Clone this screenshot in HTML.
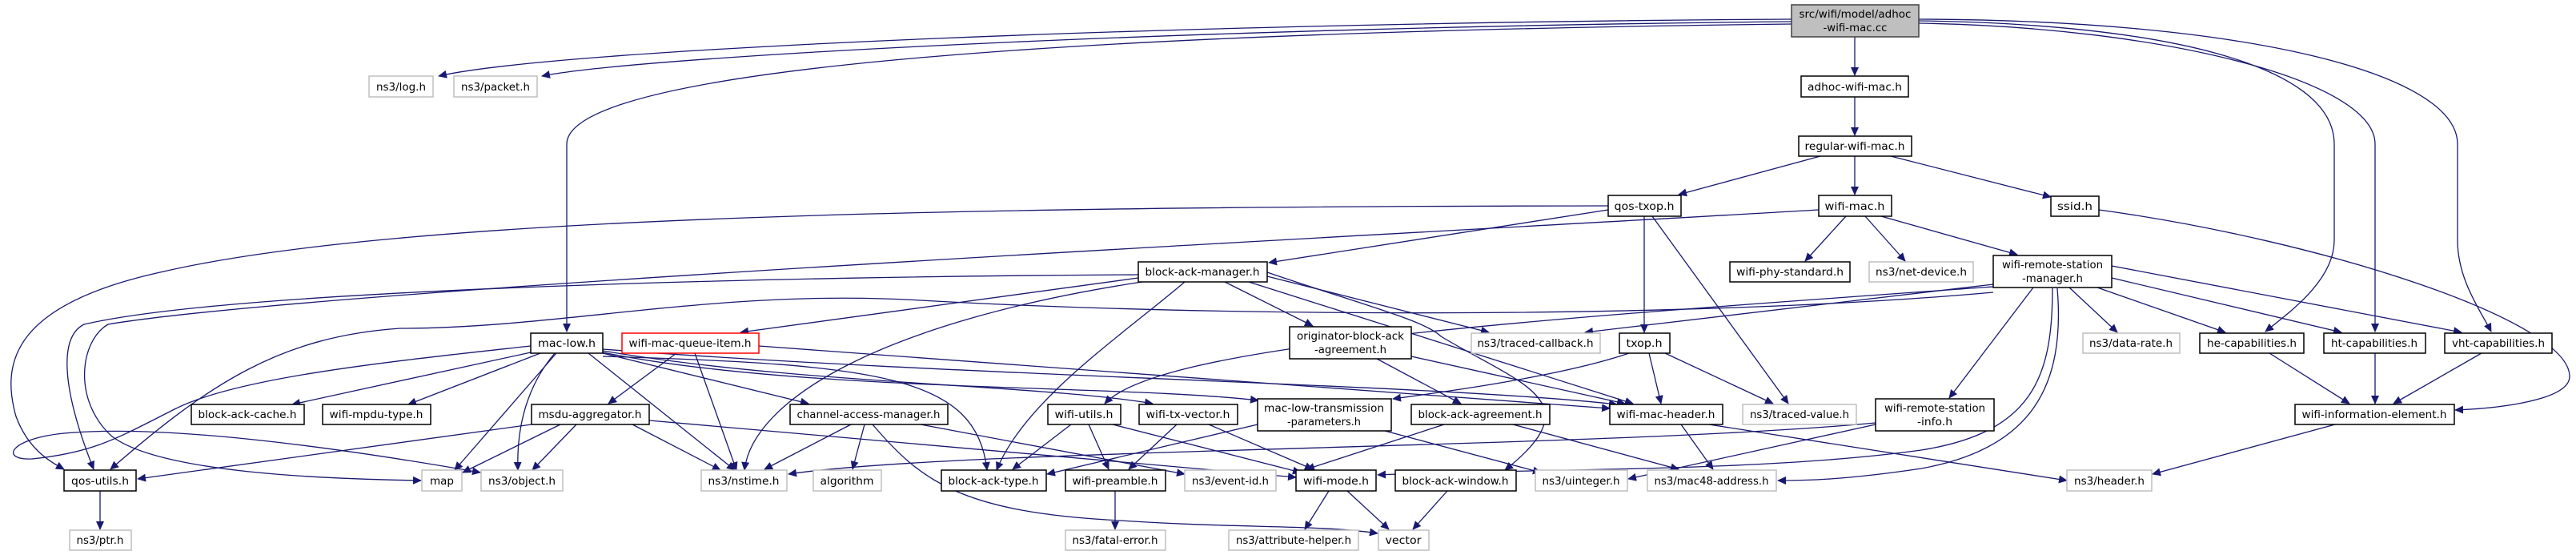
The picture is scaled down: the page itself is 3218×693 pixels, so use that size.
<!DOCTYPE html>
<html><head><meta charset="utf-8"><style>
html,body{margin:0;padding:0;background:#fff;}
svg{display:block;}
text{font-family:"DejaVu Sans","Liberation Sans",sans-serif;font-size:13px;fill:#000;}
.e{fill:none;stroke:#191970;stroke-width:1.3;}
.n{fill:#fff;stroke:#000;stroke-width:1.5;}
.g{fill:#fff;stroke:#bfbfbf;stroke-width:1.5;}
.r{fill:#fff;stroke:#ff0000;stroke-width:1.5;}
</style></head><body>
<svg width="3218" height="693" viewBox="0 0 3218 693" xmlns="http://www.w3.org/2000/svg">
<defs><marker id="a" markerWidth="11" markerHeight="10" refX="10" refY="5" orient="auto" markerUnits="userSpaceOnUse"><path d="M0,0 L11,5 L0,10 z" fill="#191970"/></marker></defs>
<g class="e" marker-end="url(#a)">
<path d="M2238,24 C1500,28 700,60 548,95"/>
<path d="M2238,27 C1500,34 800,70 677,95"/>
<path d="M2238,30 C1400,40 708,80 708,180 L708,414"/>
<path d="M2317,46 L2317,94"/>
<path d="M2397,26 C2700,30 2916,80 2916,180 L2916,300 C2916,350 2860,390 2830,414"/>
<path d="M2397,29 C2700,34 2967,100 2967,180 L2967,414"/>
<path d="M2397,24 C2800,25 3070,90 3070,180 L3070,300 C3070,350 3100,390 3112,414"/>
<path d="M2317,121 L2317,169"/>
<path d="M2274,195 L2097,243"/>
<path d="M2317,195 L2317,243"/>
<path d="M2362,195 L2562,246"/>
<path d="M2009,262 L1585,328"/>
<path d="M2054,270 L2054,415"/>
<path d="M2064,270 L2234,504"/>
<path d="M2009,257 C1200,258 500,270 200,340 C20,380 0,450 20,520 C35,560 60,575 80,586"/>
<path d="M1422,343 C1000,345 300,360 105,405 C75,420 75,480 117,586"/>
<path d="M2272,262 C1800,290 400,360 135,405 C100,425 90,500 140,545 C200,590 400,598 526,600"/>
<path d="M2490,365 C2100,400 1500,395 1150,375 C900,360 700,410 500,410 C350,420 260,480 138,586"/>
<path d="M663,432 C500,450 300,470 220,510 C150,545 120,565 40,573 C0,575 10,548 80,541 C200,530 400,555 600,590"/>
<path d="M664,530 L172,598"/>
<path d="M700,530 L578,590"/>
<path d="M720,530 L665,587"/>
<path d="M790,530 L900,587"/>
<path d="M811,525 L1619,596"/>
<path d="M663,440 L365,505"/>
<path d="M675,441 L510,505"/>
<path d="M695,441 L568,587"/>
<path d="M693,441 C660,480 645,530 647,587"/>
<path d="M845,441 L760,504"/>
<path d="M735,441 L918,587"/>
<path d="M753,441 L1010,504"/>
<path d="M753,445 C1100,455 1220,470 1233,587"/>
<path d="M753,436 C1200,470 1800,480 2020,505"/>
<path d="M753,438 C1000,480 1300,480 1440,504"/>
<path d="M753,440 C1000,490 1400,480 1572,500"/>
<path d="M868,441 L920,587"/>
<path d="M948,432 L2011,510"/>
<path d="M1422,347 L925,415"/>
<path d="M1440,350 C1100,400 940,500 930,587"/>
<path d="M1480,352 C1400,420 1280,500 1245,587"/>
<path d="M1530,352 L1640,407"/>
<path d="M1560,352 L2040,504"/>
<path d="M1583,345 L1860,415"/>
<path d="M1583,340 C1700,380 1780,400 1800,420 C1900,480 1990,500 1880,587"/>
<path d="M1720,448 L1825,504"/>
<path d="M1763,445 L2030,504"/>
<path d="M2035,441 C1950,470 1800,490 1740,498"/>
<path d="M2060,441 L2075,504"/>
<path d="M2080,441 L2215,504"/>
<path d="M2490,355 L1980,415"/>
<path d="M2490,358 C1900,400 1450,430 1380,504"/>
<path d="M2540,359 L2435,497"/>
<path d="M2585,359 L2645,415"/>
<path d="M2620,359 L2780,415"/>
<path d="M2638,347 L2925,415"/>
<path d="M2638,332 L3075,415"/>
<path d="M2564,360 C2564,470 2540,540 2400,562 C2200,590 1900,585 1721,593"/>
<path d="M2570,360 C2580,480 2540,560 2400,585 C2300,600 2250,600 2221,600"/>
<path d="M2343,530 L2034,598"/>
<path d="M2343,528 C2000,560 1200,560 985,592"/>
<path d="M1571,530 L1308,592"/>
<path d="M1730,538 L1925,590"/>
<path d="M2622,262 C2900,300 3210,400 3210,470 C3210,500 3120,510 3067,512"/>
<path d="M2835,441 L2935,504"/>
<path d="M2967,441 L2967,504"/>
<path d="M3100,441 L2990,504"/>
<path d="M2917,530 L2689,592"/>
<path d="M2100,530 L2140,586"/>
<path d="M2135,530 L2582,600"/>
<path d="M1890,530 L2097,586"/>
<path d="M1804,530 L1632,586"/>
<path d="M1338,530 L1265,586"/>
<path d="M1360,530 L1385,586"/>
<path d="M1390,530 L1625,590"/>
<path d="M1470,530 L1410,586"/>
<path d="M1510,530 L1640,586"/>
<path d="M1393,613 L1393,661"/>
<path d="M1660,613 L1630,661"/>
<path d="M1683,613 L1735,661"/>
<path d="M1808,613 L1765,661"/>
<path d="M1090,530 C1150,600 1200,640 1400,650 C1550,660 1650,655 1721,666"/>
<path d="M1063,530 L955,586"/>
<path d="M1080,530 L1065,586"/>
<path d="M1150,530 L1480,592"/>
<path d="M125,613 L125,661"/>
<path d="M2306,270 L2255,326"/>
<path d="M2330,270 L2380,326"/>
<path d="M2350,270 L2520,318"/>
</g>
<g>
<rect x="2238" y="6" width="159" height="40" fill="#bfbfbf" stroke="#404040" stroke-width="1.5"/>
<text x="2317.5" y="22" text-anchor="middle" textLength="140" lengthAdjust="spacingAndGlyphs">src/wifi/model/adhoc</text>
<text x="2317.5" y="39" text-anchor="middle" textLength="80" lengthAdjust="spacingAndGlyphs">-wifi-mac.cc</text>
</g>
<g>
<rect class="n" x="2250" y="95" width="134" height="26"/><text x="2317" y="113" text-anchor="middle" textLength="118" lengthAdjust="spacingAndGlyphs">adhoc-wifi-mac.h</text>
<rect class="g" x="461" y="95" width="80" height="26"/><text x="501" y="113" text-anchor="middle" textLength="62" lengthAdjust="spacingAndGlyphs">ns3/log.h</text>
<rect class="g" x="567" y="95" width="104" height="26"/><text x="619" y="113" text-anchor="middle" textLength="86" lengthAdjust="spacingAndGlyphs">ns3/packet.h</text>
<rect class="n" x="2247" y="170" width="141" height="25"/><text x="2317" y="187" text-anchor="middle" textLength="125" lengthAdjust="spacingAndGlyphs">regular-wifi-mac.h</text>
<rect class="n" x="2009" y="244" width="91" height="26"/><text x="2054" y="262" text-anchor="middle" textLength="75" lengthAdjust="spacingAndGlyphs">qos-txop.h</text>
<rect class="n" x="2272" y="244" width="91" height="26"/><text x="2317" y="262" text-anchor="middle" textLength="75" lengthAdjust="spacingAndGlyphs">wifi-mac.h</text>
<rect class="n" x="2562" y="245" width="60" height="25"/><text x="2592" y="262" text-anchor="middle" textLength="44" lengthAdjust="spacingAndGlyphs">ssid.h</text>
<rect class="n" x="2161" y="327" width="150" height="25"/><text x="2236" y="344" text-anchor="middle" textLength="134" lengthAdjust="spacingAndGlyphs">wifi-phy-standard.h</text>
<rect class="g" x="2335" y="327" width="130" height="25"/><text x="2400" y="344" text-anchor="middle" textLength="114" lengthAdjust="spacingAndGlyphs">ns3/net-device.h</text>
<rect class="n" x="2490" y="319" width="148" height="40"/>
<text x="2564" y="335" text-anchor="middle" textLength="126" lengthAdjust="spacingAndGlyphs">wifi-remote-station</text>
<text x="2564" y="352" text-anchor="middle" textLength="76" lengthAdjust="spacingAndGlyphs">-manager.h</text>
<rect class="n" x="1422" y="327" width="161" height="25"/><text x="1502" y="344" text-anchor="middle" textLength="143" lengthAdjust="spacingAndGlyphs">block-ack-manager.h</text>
<rect class="g" x="1838" y="416" width="161" height="25"/><text x="1918" y="433" text-anchor="middle" textLength="145" lengthAdjust="spacingAndGlyphs">ns3/traced-callback.h</text>
<rect class="n" x="2023" y="416" width="63" height="25"/><text x="2054" y="433" text-anchor="middle" textLength="45" lengthAdjust="spacingAndGlyphs">txop.h</text>
<rect class="n" x="1611" y="408" width="152" height="40"/>
<text x="1687" y="424" text-anchor="middle" textLength="134" lengthAdjust="spacingAndGlyphs">originator-block-ack</text>
<text x="1687" y="441" text-anchor="middle" textLength="90" lengthAdjust="spacingAndGlyphs">-agreement.h</text>
<rect class="r" x="777" y="416" width="171" height="25"/><text x="862" y="433" text-anchor="middle" textLength="153" lengthAdjust="spacingAndGlyphs">wifi-mac-queue-item.h</text>
<rect class="n" x="663" y="416" width="90" height="25"/><text x="708" y="433" text-anchor="middle" textLength="72" lengthAdjust="spacingAndGlyphs">mac-low.h</text>
<rect class="g" x="2602" y="416" width="121" height="25"/><text x="2662" y="433" text-anchor="middle" textLength="104" lengthAdjust="spacingAndGlyphs">ns3/data-rate.h</text>
<rect class="n" x="2748" y="416" width="130" height="25"/><text x="2813" y="433" text-anchor="middle" textLength="112" lengthAdjust="spacingAndGlyphs">he-capabilities.h</text>
<rect class="n" x="2903" y="416" width="127" height="25"/><text x="2966" y="433" text-anchor="middle" textLength="108" lengthAdjust="spacingAndGlyphs">ht-capabilities.h</text>
<rect class="n" x="3054" y="416" width="134" height="25"/><text x="3121" y="433" text-anchor="middle" textLength="116" lengthAdjust="spacingAndGlyphs">vht-capabilities.h</text>
<rect class="n" x="239" y="505" width="141" height="25"/><text x="309" y="522" text-anchor="middle" textLength="123" lengthAdjust="spacingAndGlyphs">block-ack-cache.h</text>
<rect class="n" x="403" y="505" width="135" height="25"/><text x="470" y="522" text-anchor="middle" textLength="117" lengthAdjust="spacingAndGlyphs">wifi-mpdu-type.h</text>
<rect class="n" x="664" y="505" width="147" height="25"/><text x="737" y="522" text-anchor="middle" textLength="129" lengthAdjust="spacingAndGlyphs">msdu-aggregator.h</text>
<rect class="n" x="987" y="505" width="197" height="25"/><text x="1085" y="522" text-anchor="middle" textLength="179" lengthAdjust="spacingAndGlyphs">channel-access-manager.h</text>
<rect class="n" x="1309" y="505" width="91" height="25"/><text x="1354" y="522" text-anchor="middle" textLength="73" lengthAdjust="spacingAndGlyphs">wifi-utils.h</text>
<rect class="n" x="1423" y="505" width="123" height="25"/><text x="1484" y="522" text-anchor="middle" textLength="105" lengthAdjust="spacingAndGlyphs">wifi-tx-vector.h</text>
<rect class="n" x="1571" y="498" width="167" height="40"/>
<text x="1654" y="514" text-anchor="middle" textLength="150" lengthAdjust="spacingAndGlyphs">mac-low-transmission</text>
<text x="1654" y="531" text-anchor="middle" textLength="92" lengthAdjust="spacingAndGlyphs">-parameters.h</text>
<rect class="n" x="1763" y="505" width="173" height="25"/><text x="1849" y="522" text-anchor="middle" textLength="155" lengthAdjust="spacingAndGlyphs">block-ack-agreement.h</text>
<rect class="n" x="2011" y="505" width="141" height="25"/><text x="2081" y="522" text-anchor="middle" textLength="123" lengthAdjust="spacingAndGlyphs">wifi-mac-header.h</text>
<rect class="g" x="2177" y="505" width="142" height="25"/><text x="2248" y="522" text-anchor="middle" textLength="124" lengthAdjust="spacingAndGlyphs">ns3/traced-value.h</text>
<rect class="n" x="2343" y="498" width="148" height="40"/>
<text x="2417" y="514" text-anchor="middle" textLength="126" lengthAdjust="spacingAndGlyphs">wifi-remote-station</text>
<text x="2417" y="531" text-anchor="middle" textLength="44" lengthAdjust="spacingAndGlyphs">-info.h</text>
<rect class="n" x="2867" y="505" width="199" height="25"/><text x="2966" y="522" text-anchor="middle" textLength="181" lengthAdjust="spacingAndGlyphs">wifi-information-element.h</text>
<rect class="n" x="80" y="587" width="90" height="26"/><text x="125" y="605" text-anchor="middle" textLength="72" lengthAdjust="spacingAndGlyphs">qos-utils.h</text>
<rect class="g" x="527" y="587" width="50" height="26"/><text x="552" y="605" text-anchor="middle" textLength="30" lengthAdjust="spacingAndGlyphs">map</text>
<rect class="g" x="601" y="587" width="102" height="26"/><text x="652" y="605" text-anchor="middle" textLength="84" lengthAdjust="spacingAndGlyphs">ns3/object.h</text>
<rect class="g" x="876" y="587" width="107" height="26"/><text x="929" y="605" text-anchor="middle" textLength="89" lengthAdjust="spacingAndGlyphs">ns3/nstime.h</text>
<rect class="g" x="1016" y="587" width="85" height="26"/><text x="1058" y="605" text-anchor="middle" textLength="67" lengthAdjust="spacingAndGlyphs">algorithm</text>
<rect class="n" x="1176" y="587" width="131" height="26"/><text x="1241" y="605" text-anchor="middle" textLength="113" lengthAdjust="spacingAndGlyphs">block-ack-type.h</text>
<rect class="n" x="1331" y="587" width="125" height="26"/><text x="1393" y="605" text-anchor="middle" textLength="107" lengthAdjust="spacingAndGlyphs">wifi-preamble.h</text>
<rect class="g" x="1480" y="587" width="114" height="26"/><text x="1537" y="605" text-anchor="middle" textLength="96" lengthAdjust="spacingAndGlyphs">ns3/event-id.h</text>
<rect class="n" x="1619" y="587" width="100" height="26"/><text x="1669" y="605" text-anchor="middle" textLength="82" lengthAdjust="spacingAndGlyphs">wifi-mode.h</text>
<rect class="n" x="1743" y="587" width="151" height="26"/><text x="1818" y="605" text-anchor="middle" textLength="133" lengthAdjust="spacingAndGlyphs">block-ack-window.h</text>
<rect class="g" x="1918" y="587" width="115" height="26"/><text x="1975" y="605" text-anchor="middle" textLength="97" lengthAdjust="spacingAndGlyphs">ns3/uinteger.h</text>
<rect class="g" x="2058" y="587" width="161" height="26"/><text x="2138" y="605" text-anchor="middle" textLength="143" lengthAdjust="spacingAndGlyphs">ns3/mac48-address.h</text>
<rect class="g" x="2582" y="587" width="106" height="26"/><text x="2635" y="605" text-anchor="middle" textLength="88" lengthAdjust="spacingAndGlyphs">ns3/header.h</text>
<rect class="g" x="87" y="662" width="77" height="25"/><text x="125" y="679" text-anchor="middle" textLength="59" lengthAdjust="spacingAndGlyphs">ns3/ptr.h</text>
<rect class="g" x="1331" y="662" width="125" height="25"/><text x="1393" y="679" text-anchor="middle" textLength="107" lengthAdjust="spacingAndGlyphs">ns3/fatal-error.h</text>
<rect class="g" x="1535" y="662" width="162" height="25"/><text x="1616" y="679" text-anchor="middle" textLength="144" lengthAdjust="spacingAndGlyphs">ns3/attribute-helper.h</text>
<rect class="g" x="1722" y="662" width="63" height="25"/><text x="1753" y="679" text-anchor="middle" textLength="45" lengthAdjust="spacingAndGlyphs">vector</text>
</g>
</svg>
</body></html>
